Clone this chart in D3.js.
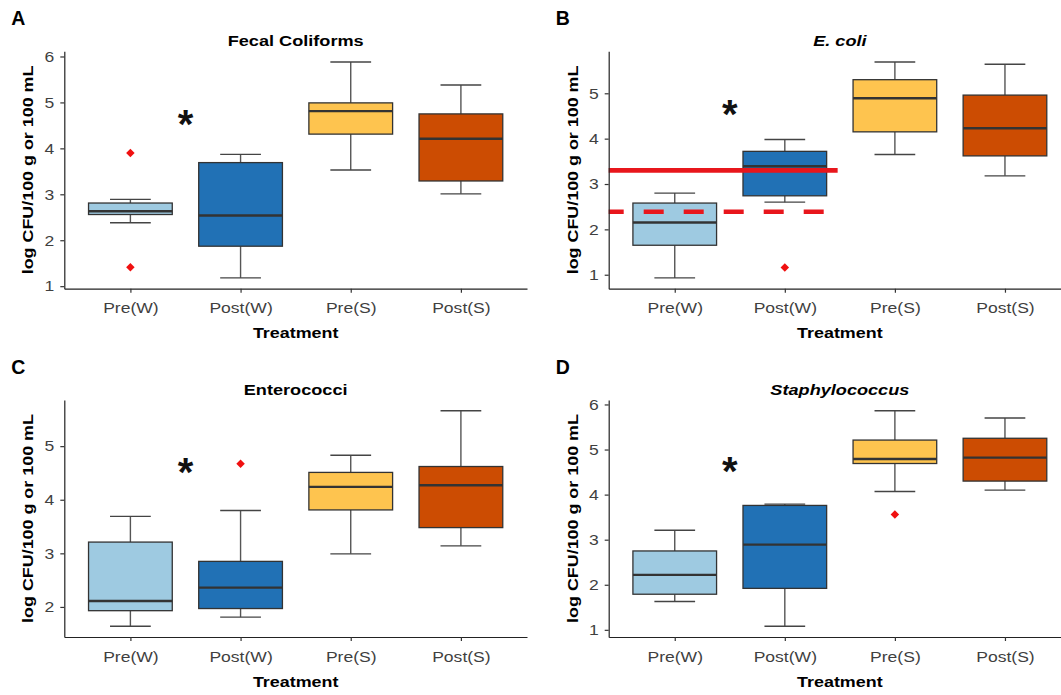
<!DOCTYPE html>
<html><head><meta charset="utf-8">
<script src="https://cdn.jsdelivr.net/npm/d3@7"></script>
<style>body{margin:0;background:#fff} svg{display:block}</style>
</head><body>
<svg id="c" width="1061" height="695"></svg>
<script>
// ---------- data ----------
const categories = ["Pre(W)", "Post(W)", "Pre(S)", "Post(S)"];
const boxColors = ["#9ecae1", "#2171b5", "#fec44f", "#cc4c02"];
const panelLetters = ["A", "B", "C", "D"];
const panelTitles = ["Fecal Coliforms", "E. coli", "Enterococci", "Staphylococcus"];
const titleItalic = [false, true, false, true];

// [lower whisker, Q1, median, Q3, upper whisker] per category
const fecalStats = [[2.38, 2.56, 2.63, 2.81, 2.89], [1.18, 1.87, 2.54, 3.69, 3.87], [3.53, 4.31, 4.81, 4.99, 5.88], [3.01, 3.29, 4.21, 4.75, 5.38]];
const fecalOutliers = [[3.90, 1.41], [], [], []];
const ecoliStats = [[0.93, 1.65, 2.15, 2.58, 2.80], [2.60, 2.74, 3.39, 3.72, 3.98], [3.65, 4.15, 4.89, 5.30, 5.69], [3.18, 3.62, 4.23, 4.96, 5.64]];
const ecoliOutliers = [[], [1.16], [], []];
const enteroStats = [[1.64, 1.93, 2.11, 3.21, 3.69], [1.81, 1.97, 2.36, 2.85, 3.80], [2.99, 3.81, 4.24, 4.51, 4.83], [3.14, 3.48, 4.27, 4.62, 5.66]];
const enteroOutliers = [[], [4.67], [], []];
const staphStats = [[1.63, 1.79, 2.22, 2.75, 3.21], [1.08, 1.92, 2.89, 3.76, 3.79], [4.07, 4.69, 4.79, 5.21, 5.86], [4.10, 4.30, 4.82, 5.25, 5.70]];
const staphOutliers = [[], [], [3.56], []];
const starValues = [4.65, 4.67, 4.62, 4.64];
// E. coli reference lines: [value, x start (category index), x end]
const ecoliSolidLine = [3.30, 0.4, 2.48];
const ecoliDashedLine = [2.39, 0.4, 2.48];

const panelStats = [fecalStats, ecoliStats, enteroStats, staphStats];
const panelOutliers = [fecalOutliers, ecoliOutliers, enteroOutliers, staphOutliers];

// ---------- layout ----------
const layout = [
  {left: 64.3, right: 527, top: 51.2, bottom: 288.7},
  {left: 608.7, right: 1071, top: 51.2, bottom: 288.7},
  {left: 64.3, right: 527, top: 400, bottom: 637},
  {left: 608.7, right: 1071, top: 400, bottom: 637}
];
const SX = 1.17;
const FONT = "'Liberation Sans', Arial, Helvetica, sans-serif";
const svg = d3.select("#c");

function addText(g, x, y, str, o = {}) {
  const {size = 15, weight = "normal", style = "normal", anchor = "middle", rotate = 0, fill = "#000", scale = SX} = o;
  return g.append("text")
    .attr("transform", `translate(${x},${y}) rotate(${rotate}) scale(${scale},1)`)
    .attr("text-anchor", anchor).attr("font-family", FONT).attr("font-size", size)
    .attr("font-weight", weight).attr("font-style", style).attr("fill", fill).text(str);
}

panelStats.forEach((stats, p) => {
  const L = layout[p];
  const g = svg.append("g");
  const outs = panelOutliers[p];
  const all = stats.flat().concat(outs.flat());
  const lo = d3.min(all), hi = d3.max(all), pad = (hi - lo) * 0.05;
  const y = d3.scaleLinear().domain([lo - pad, hi + pad]).range([L.bottom, L.top]);
  const x = d3.scalePoint().domain(categories).range([L.left, L.right]).padding(0.6);
  const xi = d3.scaleLinear().domain([1, 4]).range([x(categories[0]), x(categories[3])]);
  const step = x.step();
  const bw = step * 0.76, cw = step * 0.37;

  // boxes
  stats.forEach((s, i) => {
    const cx = x(categories[i]);
    const [wl, q1, md, q3, wu] = s;
    const bg = g.append("g");
    bg.append("line").attr("x1", cx).attr("x2", cx).attr("y1", y(q3)).attr("y2", y(wu)).attr("stroke", "#555").attr("stroke-width", 1.4);
    bg.append("line").attr("x1", cx).attr("x2", cx).attr("y1", y(q1)).attr("y2", y(wl)).attr("stroke", "#555").attr("stroke-width", 1.4);
    bg.append("line").attr("x1", cx - cw / 2).attr("x2", cx + cw / 2).attr("y1", y(wu)).attr("y2", y(wu)).attr("stroke", "#444").attr("stroke-width", 1.4);
    bg.append("line").attr("x1", cx - cw / 2).attr("x2", cx + cw / 2).attr("y1", y(wl)).attr("y2", y(wl)).attr("stroke", "#444").attr("stroke-width", 1.4);
    bg.append("rect").attr("x", cx - bw / 2).attr("width", bw).attr("y", y(q3)).attr("height", y(q1) - y(q3))
      .attr("fill", boxColors[i]).attr("stroke", "#333").attr("stroke-width", 1.3);
    bg.append("line").attr("x1", cx - bw / 2).attr("x2", cx + bw / 2).attr("y1", y(md)).attr("y2", y(md)).attr("stroke", "#333").attr("stroke-width", 2.4);
    outs[i].forEach(v => {
      bg.append("path").attr("d", d3.symbol(d3.symbolDiamond2, 46)())
        .attr("transform", `translate(${cx},${y(v)})`).attr("fill", "#f01010");
    });
  });

  // reference lines for E. coli
  if (p === 1) {
    g.append("line").attr("x1", xi(ecoliSolidLine[1])).attr("x2", xi(ecoliSolidLine[2]))
      .attr("y1", y(ecoliSolidLine[0])).attr("y2", y(ecoliSolidLine[0]))
      .attr("stroke", "#e8161c").attr("stroke-width", 4.6);
    g.append("line").attr("x1", xi(ecoliDashedLine[1])).attr("x2", xi(ecoliDashedLine[2]))
      .attr("y1", y(ecoliDashedLine[0])).attr("y2", y(ecoliDashedLine[0]))
      .attr("stroke", "#e8161c").attr("stroke-width", 4.4)
      .attr("stroke-dasharray", "20,20").attr("stroke-dashoffset", 5);
  }

  // significance star
  g.append("text").attr("x", xi(1.5)).attr("y", y(starValues[p]) + 19.5)
    .attr("text-anchor", "middle").attr("font-family", FONT).attr("font-weight", "bold")
    .attr("font-size", 40).attr("fill", "#111").text("*");

  // axes
  const [d0, d1] = y.domain();
  const ticks = d3.range(Math.ceil(d0), Math.floor(d1) + 1);
  const gy = g.append("g").attr("transform", `translate(${L.left},0)`)
    .call(d3.axisLeft(y).tickValues(ticks).tickFormat(d3.format("d")).tickSize(4).tickSizeOuter(0));
  const gx = g.append("g").attr("transform", `translate(0,${L.bottom})`)
    .call(d3.axisBottom(x).tickSize(4).tickPadding(10).tickSizeOuter(0));
  [gy, gx].forEach(a => {
    a.select(".domain").attr("stroke", "#222").attr("stroke-width", 1.2);
    a.selectAll(".tick line").attr("stroke", "#333").attr("stroke-width", 1.2);
    a.selectAll(".tick text").attr("font-family", FONT).attr("font-size", 15).attr("fill", "#3f3f3f");
  });
  gy.selectAll(".tick text").attr("x", -10 / SX).attr("transform", `scale(${SX},1)`);
  gx.selectAll(".tick text").attr("transform", `scale(${SX},1)`);

  // labels
  const cxp = (L.left + L.right) / 2, cyp = (L.top + L.bottom) / 2;
  addText(g, cxp, L.top - 5.5, panelTitles[p], {size: 15.5, weight: "bold", style: titleItalic[p] ? "italic" : "normal"});
  addText(g, cxp, L.bottom + 49.5, "Treatment", {size: 15.3, weight: "bold"});
  addText(g, L.left - 36.2, cyp, "log CFU/100 g or 100 mL", {size: 15.3, weight: "bold", rotate: -90}).attr("dy", "0.35em");
  addText(g, L.left - 53, L.top - 26.3, panelLetters[p], {size: 19.5, weight: "bold", anchor: "start", scale: 1});
});
</script>
</body></html>
